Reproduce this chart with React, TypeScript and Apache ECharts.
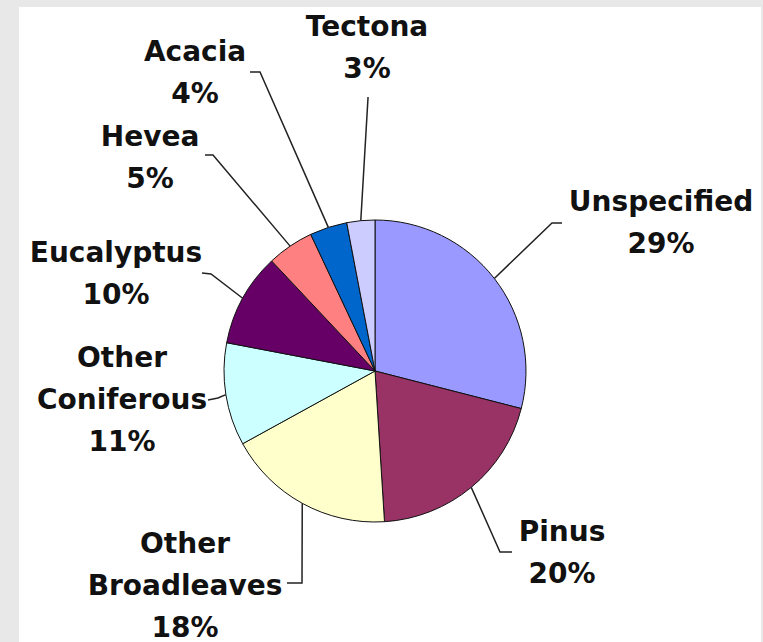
import React, { useEffect, useRef } from 'react';
import * as echarts from 'echarts';

const categories = [
  'Unspecified',
  'Pinus',
  'Other Broadleaves',
  'Other Coniferous',
  'Eucalyptus',
  'Hevea',
  'Acacia',
  'Tectona',
];
const shares = [29, 20, 18, 11, 10, 5, 4, 3];
const colors = ['#9999ff', '#993366', '#ffffcc', '#ccffff', '#660066', '#ff8080', '#0066cc', '#ccccff'];

// label placement (layout only): [labelX, labelY, elbowX, elbowY, endX, endY]
const labelLayouts: number[][] = [
  [661, 222, 552, 223, 562, 223],
  [562, 552, 500, 552, 512, 552],
  [185, 585, 302, 583, 287, 583],
  [122, 399, 218, 398, 208, 400],
  [116, 273, 211, 274, 202, 273],
  [150, 157, 213, 155, 205, 155],
  [195, 72, 260, 72, 250, 72],
  [367, 47, 368, 98, 368, 97],
];

export default function App() {
  const ref = useRef<HTMLDivElement>(null);
  useEffect(() => {
    const chart = echarts.init(ref.current!, null, { renderer: 'svg' });
    chart.setOption({
      animation: false,
      backgroundColor: '#e8e8e8',
      graphic: [
        {
          type: 'rect',
          z: -10,
          silent: true,
          shape: { x: 19, y: 7, width: 742, height: 640 },
          style: { fill: '#ffffff' },
        },
      ],
      series: [
        {
          type: 'pie',
          center: [375, 371],
          radius: 151,
          startAngle: 90,
          clockwise: true,
          avoidLabelOverlap: false,
          emphasis: { disabled: true },
          data: categories.map((name, i) => ({
            name,
            value: shares[i],
            itemStyle: { color: colors[i] },
          })),
          itemStyle: { borderColor: '#111', borderWidth: 1 },
          label: {
            show: true,
            position: 'outside',
            formatter: (p: any) =>
              p.name.replace('Other ', 'Other\n') + '\n' + Math.round(p.percent) + '%',
            fontFamily: 'DejaVu Sans',
            fontWeight: 'bold',
            fontSize: 28,
            lineHeight: 42,
            color: '#111',
            align: 'center',
          },
          labelLine: {
            show: true,
            length: 10,
            length2: 10,
            lineStyle: { color: '#222', width: 1.5 },
          },
          labelLayout: (p: any) => {
            const L = labelLayouts[p.dataIndex];
            const start = p.labelLinePoints ? p.labelLinePoints[0] : [L[2], L[3]];
            return {
              x: L[0],
              y: L[1],
              align: 'center',
              verticalAlign: 'middle',
              hideOverlap: false,
              moveOverlap: false,
              labelLinePoints: [start, [L[2], L[3]], [L[4], L[5]]],
            };
          },
        },
      ],
    });
    return () => chart.dispose();
  }, []);
  return (
    <div
      ref={ref}
      style={{ position: 'fixed', left: 0, top: 0, width: 763, height: 642 }}
    />
  );
}
